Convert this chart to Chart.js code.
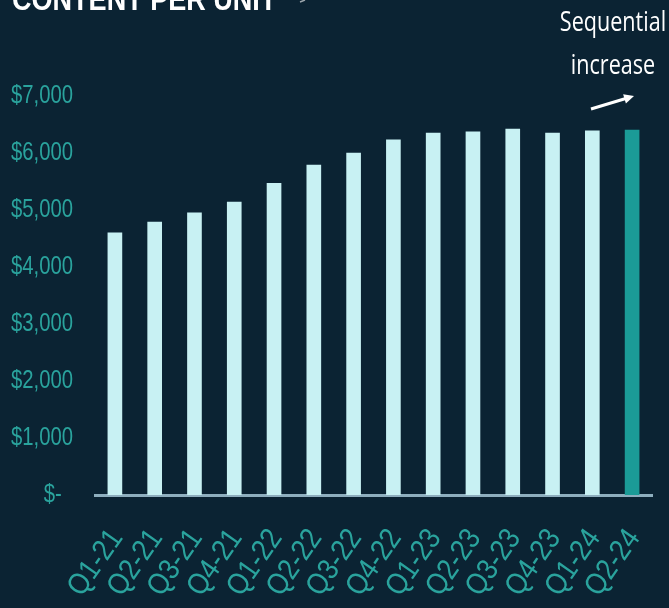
<!DOCTYPE html>
<html>
<head>
<meta charset="utf-8">
<script src="https://cdn.jsdelivr.net/npm/chart.js@4.4.1/dist/chart.umd.min.js"></script>
<style>
  html, body { margin: 0; padding: 0; background: #0b2333; }
  #chart-container { width: 669px; height: 608px; position: relative; }
</style>
</head>
<body>
<div id="chart-container"><canvas id="MainChart"></canvas></div>
<script>
// quarterly content per unit, USD
var quarters = ['Q1-21', 'Q2-21', 'Q3-21', 'Q4-21', 'Q1-22', 'Q2-22', 'Q3-22',
                'Q4-22', 'Q1-23', 'Q2-23', 'Q3-23', 'Q4-23', 'Q1-24', 'Q2-24'];
var contentPerUnit = [4600, 4790, 4950, 5140, 5470, 5790, 6000,
                      6230, 6350, 6370, 6420, 6350, 6390, 6400];
var yTicks = [0, 1000, 2000, 3000, 4000, 5000, 6000, 7000];
var noteLines = ['Sequential', 'increase'];
var chartTitle = 'CONTENT PER UNIT';

var tickColor = '#2aa39d';
var narrow = 0.78; // squeeze factor, no condensed face installed

var barColors = contentPerUnit.map(function (v, i) {
    return i == contentPerUnit.length - 1 ? '#1b9b97' : '#c8f1f3';
});

function money(v) {
    if (v === 0) return '$-  ';
    return '$' + v.toLocaleString('en-US');
}

// tick labels drawn by hand so they can be condensed
var tickLabels = {
    id: 'tickLabels',
    afterDraw: function (chart) {
        var ctx = chart.ctx;
        var ys = chart.scales.y, xs = chart.scales.x;
        ctx.save();
        ctx.fillStyle = tickColor;
        ctx.font = '26px "Liberation Sans", Arial, sans-serif';
        ctx.textAlign = 'right';
        ctx.textBaseline = 'middle';
        ys.ticks.forEach(function (t) {
            var y = ys.getPixelForValue(t.value);
            ctx.save();
            ctx.translate(ys.right - 22, y);
            ctx.scale(narrow, 1);
            ctx.fillText(money(t.value), 0, 0);
            ctx.restore();
        });

        ctx.font = '30px "Liberation Sans", Arial, sans-serif';
        xs.ticks.forEach(function (t, i) {
            var x = xs.getPixelForTick(i);
            ctx.save();
            ctx.translate(x + 2, xs.top + 38);
            ctx.rotate(-55 * Math.PI / 180);
            ctx.scale(0.88, 1);
            ctx.fillText(quarters[i], 0, 0);
            ctx.restore();
        });
        ctx.restore();
    }
};

// title at the very top (mostly cut off) and the note with arrow on the right
var overlay = {
    id: 'overlay',
    afterDraw: function (chart) {
        var ctx = chart.ctx;
        ctx.save();
        ctx.fillStyle = '#ffffff';
        ctx.strokeStyle = '#ffffff';
        ctx.font = 'bold 32px "Liberation Sans", Arial, sans-serif';
        ctx.textBaseline = 'alphabetic';
        ctx.textAlign = 'left';
        ctx.save();
        ctx.translate(12, 10);
        ctx.scale(0.845, 1);
        ctx.fillText(chartTitle, 0, 0);
        ctx.restore();
        // tip of the arrow next to the title
        ctx.lineWidth = 1.5;
        ctx.globalAlpha = 0.6;
        ctx.beginPath();
        ctx.moveTo(300, 2);
        ctx.lineTo(305, 0);
        ctx.stroke();
        ctx.globalAlpha = 1;

        ctx.font = '27px "Open Sans", sans-serif';
        ctx.textAlign = 'center';
        ctx.textBaseline = 'middle';
        noteLines.forEach(function (t, i) {
            ctx.save();
            ctx.translate(613, 23 + i * 43);
            ctx.scale(0.8, 1);
            ctx.fillText(t, 0, 0);
            ctx.restore();
        });

        // arrow
        var x0 = 591, y0 = 109, x1 = 634, y1 = 96;
        var a = Math.atan2(y1 - y0, x1 - x0);
        ctx.lineWidth = 3;
        ctx.beginPath();
        ctx.moveTo(x0, y0);
        ctx.lineTo(x1 - 6 * Math.cos(a), y1 - 6 * Math.sin(a));
        ctx.stroke();
        ctx.beginPath();
        ctx.moveTo(x1, y1);
        ctx.lineTo(x1 - 11 * Math.cos(a - 0.45), y1 - 11 * Math.sin(a - 0.45));
        ctx.lineTo(x1 - 11 * Math.cos(a + 0.45), y1 - 11 * Math.sin(a + 0.45));
        ctx.closePath();
        ctx.fill();
        ctx.restore();
    }
};

var chartCtx = document.getElementById('MainChart').getContext('2d');
var MainChart = new Chart(chartCtx, {
    type: 'bar',
    data: {
        labels: quarters,
        datasets: [{
            label: 'Content per unit',
            data: contentPerUnit,
            backgroundColor: barColors,
            borderWidth: 0,
            barThickness: 14
        }]
    },
    options: {
        responsive: true,
        maintainAspectRatio: false,
        animation: false,
        layout: { padding: { top: 96, right: 17, left: 0, bottom: 0 } },
        plugins: {
            legend: { display: false },
            tooltip: { enabled: false }
        },
        scales: {
            x: {
                grid: { display: true, drawOnChartArea: false, drawTicks: false },
                border: { display: true, color: '#8eaebe', width: 3 },
                ticks: { display: false, autoSkip: false },
                afterFit: function (s) { s.height = 113; }
            },
            y: {
                min: 0,
                max: 7000,
                afterBuildTicks: function (s) {
                    s.ticks = yTicks.map(function (v) { return { value: v }; });
                },
                grid: { display: false },
                border: { display: false },
                ticks: { display: false },
                afterFit: function (s) { s.width = 95; }
            }
        }
    },
    plugins: [tickLabels, overlay]
});
</script>
</body>
</html>
